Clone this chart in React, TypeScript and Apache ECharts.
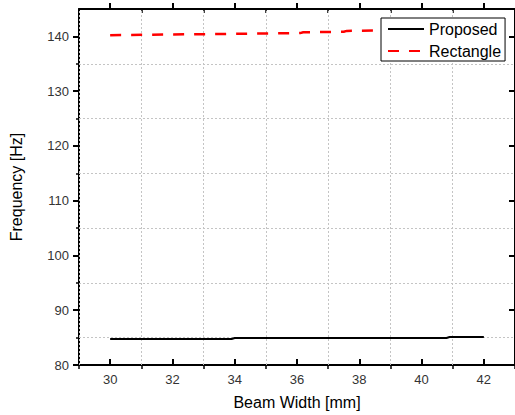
import { useEffect, useRef } from "react";
import * as echarts from "echarts";

// Data
const proposedWidth = [30, 33.9, 34, 40.8, 40.9, 42];
const proposedFreq = [84.75, 84.75, 84.92, 84.92, 85.1, 85.1];
const rectangleWidth = [30, 36.1, 36.2, 37.5, 37.6, 42];
const rectangleFreq = [140.22, 140.6, 140.75, 140.85, 141.0, 141.3];
const seriesNames = ["Proposed", "Rectangle"];
const xTickValues = [30, 32, 34, 36, 38, 40, 42];
const yTickValues = [80, 90, 100, 110, 120, 130, 140];
const xMinorValues = [29, 31, 33, 35, 37, 39, 41, 43];
const yMinorValues = [85, 95, 105, 115, 125, 135];

const FONT = "'Liberation Sans', Arial, sans-serif";

export default function App() {
  const ref = useRef<HTMLDivElement>(null);
  useEffect(() => {
    if (!ref.current) return;
    const chart = echarts.init(ref.current, undefined, { renderer: "svg" });
    const axisLine = () => ({ show: true, onZero: false, lineStyle: { color: "#000", width: 2 } });
    const noSplit = () => ({ show: false });
    const option: any = {
      animation: false,
      backgroundColor: "#fff",
      textStyle: { fontFamily: FONT },
      grid: { left: 78.3, right: -2.4, top: 9, bottom: 50, containLabel: false },
      legend: {
        data: seriesNames,
        orient: "vertical",
        left: 381,
        top: 18,
        padding: [3, 4, 2, 6],
        itemWidth: 36,
        itemHeight: 14,
        itemGap: 6,
        backgroundColor: "#fff",
        borderColor: "#000",
        borderWidth: 1,
        borderRadius: 0,
        itemStyle: { opacity: 0 },
        textStyle: { fontSize: 16, color: "#000", fontFamily: FONT },
      },
      xAxis: [
        {
          type: "value",
          position: "bottom",
          min: 29,
          max: 43,
          axisLine: axisLine(),
          axisTick: { show: true, inside: true, length: 6, customValues: xTickValues, lineStyle: { color: "#000", width: 2 } },
          axisLabel: { show: true, customValues: xTickValues, margin: 8, fontSize: 13, color: "#333", fontFamily: FONT },
          splitLine: noSplit(),
          name: "Beam Width [mm]",
          nameLocation: "middle",
          nameGap: 29,
          nameTextStyle: { fontSize: 16, color: "#000", fontFamily: FONT },
        },
        {
          type: "value",
          position: "top",
          min: 29,
          max: 43,
          axisLine: axisLine(),
          axisTick: { show: true, inside: false, length: 6, customValues: xTickValues, lineStyle: { color: "#000", width: 2 } },
          axisLabel: { show: false },
          splitLine: noSplit(),
        },
        {
          type: "value",
          position: "bottom",
          min: 29,
          max: 43,
          axisLine: { show: false, onZero: false },
          axisTick: { show: true, inside: false, length: 4, customValues: xMinorValues, lineStyle: { color: "#000", width: 1.5 } },
          axisLabel: { show: false },
          splitLine: noSplit(),
        },
        {
          type: "value",
          position: "top",
          min: 29,
          max: 43,
          axisLine: { show: false, onZero: false },
          axisTick: { show: true, inside: true, length: 4, customValues: xMinorValues, lineStyle: { color: "#000", width: 1.5 } },
          axisLabel: { show: false },
          splitLine: noSplit(),
        },
      ],
      yAxis: [
        {
          type: "value",
          position: "left",
          min: 80,
          max: 145,
          interval: 10,
          axisLine: axisLine(),
          axisTick: { show: true, inside: false, length: 6, customValues: yTickValues, lineStyle: { color: "#000", width: 2 } },
          axisLabel: { show: true, customValues: yTickValues, margin: 10, fontSize: 13, color: "#333", fontFamily: FONT },
          splitLine: noSplit(),
          name: "Frequency [Hz]",
          nameLocation: "middle",
          nameGap: 55,
          nameTextStyle: { fontSize: 16, color: "#000", fontFamily: FONT },
        },
        {
          type: "value",
          position: "right",
          min: 80,
          max: 145,
          interval: 10,
          axisLine: axisLine(),
          axisTick: { show: true, inside: true, length: 6, customValues: yTickValues, lineStyle: { color: "#000", width: 2 } },
          axisLabel: { show: false },
          splitLine: noSplit(),
        },
        {
          type: "value",
          position: "left",
          min: 80,
          max: 145,
          axisLine: { show: false, onZero: false },
          axisTick: { show: true, inside: false, length: 3, customValues: yMinorValues, lineStyle: { color: "#000", width: 1.5 } },
          axisLabel: { show: false },
          splitLine: noSplit(),
        },
      ],
      series: [
        {
          name: seriesNames[0],
          type: "line",
          xAxisIndex: 0,
          yAxisIndex: 0,
          data: proposedWidth.map((w, i) => [w, proposedFreq[i]]),
          symbol: "none",
          lineStyle: { color: "#000", width: 2, type: "solid" },
          itemStyle: { color: "#000" },
          z: 3,
          markLine: {
            silent: true,
            symbol: "none",
            label: { show: false },
            lineStyle: { color: "#c4c4c4", width: 1, type: [2, 2] },
            z: 1,
            data: [
              ...xMinorValues.map((v) => ({ xAxis: v })),
              ...yMinorValues.map((v) => ({ yAxis: v })),
            ],
          },
        },
        {
          name: seriesNames[1],
          type: "line",
          xAxisIndex: 0,
          yAxisIndex: 0,
          data: rectangleWidth.map((w, i) => [w, rectangleFreq[i]]),
          symbol: "none",
          lineStyle: { color: "#ff0000", width: 2.5, type: [11, 10] },
          itemStyle: { color: "#ff0000" },
          z: 3,
        },
      ],
    };
    chart.setOption(option);
    return () => chart.dispose();
  }, []);
  return (
    <div
      ref={ref}
      style={{ position: "fixed", left: 0, top: 0, width: 515, height: 415, background: "#fff" }}
    />
  );
}
